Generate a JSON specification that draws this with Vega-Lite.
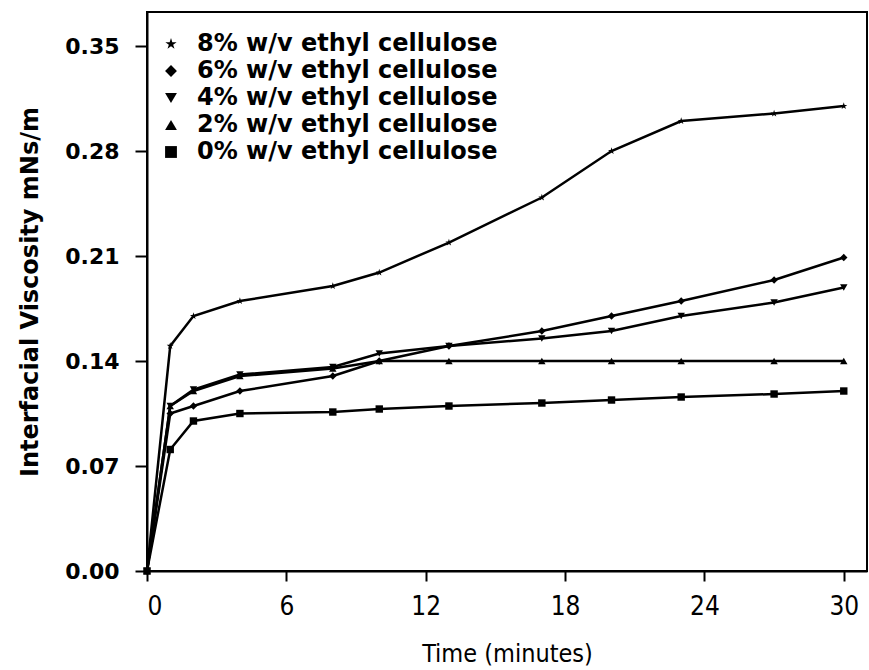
{
  "$schema": "https://vega.github.io/schema/vega-lite/v6.json",
  "width": 720,
  "height": 559,
  "autosize": "none",
  "padding": {"left": 147, "top": 12, "right": 2, "bottom": 99},
  "background": "white",
  "config": {
    "view": {"stroke": "black", "strokeWidth": 2},
    "axis": {"grid": false, "domainColor": "black", "domainWidth": 2, "tickColor": "black", "tickWidth": 2, "labelColor": "black", "titleColor": "black"}
  },
  "data": {"values": [
    {"series": "8% w/v ethyl cellulose", "time": 0, "visc": 0},
    {"series": "8% w/v ethyl cellulose", "time": 1, "visc": 0.150},
    {"series": "8% w/v ethyl cellulose", "time": 2, "visc": 0.170},
    {"series": "8% w/v ethyl cellulose", "time": 4, "visc": 0.180},
    {"series": "8% w/v ethyl cellulose", "time": 8, "visc": 0.190},
    {"series": "8% w/v ethyl cellulose", "time": 10, "visc": 0.199},
    {"series": "8% w/v ethyl cellulose", "time": 13, "visc": 0.219},
    {"series": "8% w/v ethyl cellulose", "time": 17, "visc": 0.249},
    {"series": "8% w/v ethyl cellulose", "time": 20, "visc": 0.280},
    {"series": "8% w/v ethyl cellulose", "time": 23, "visc": 0.300},
    {"series": "8% w/v ethyl cellulose", "time": 27, "visc": 0.305},
    {"series": "8% w/v ethyl cellulose", "time": 30, "visc": 0.310},
    {"series": "6% w/v ethyl cellulose", "time": 0, "visc": 0},
    {"series": "6% w/v ethyl cellulose", "time": 1, "visc": 0.105},
    {"series": "6% w/v ethyl cellulose", "time": 2, "visc": 0.110},
    {"series": "6% w/v ethyl cellulose", "time": 4, "visc": 0.120},
    {"series": "6% w/v ethyl cellulose", "time": 8, "visc": 0.130},
    {"series": "6% w/v ethyl cellulose", "time": 10, "visc": 0.140},
    {"series": "6% w/v ethyl cellulose", "time": 13, "visc": 0.150},
    {"series": "6% w/v ethyl cellulose", "time": 17, "visc": 0.160},
    {"series": "6% w/v ethyl cellulose", "time": 20, "visc": 0.170},
    {"series": "6% w/v ethyl cellulose", "time": 23, "visc": 0.180},
    {"series": "6% w/v ethyl cellulose", "time": 27, "visc": 0.194},
    {"series": "6% w/v ethyl cellulose", "time": 30, "visc": 0.209},
    {"series": "4% w/v ethyl cellulose", "time": 0, "visc": 0},
    {"series": "4% w/v ethyl cellulose", "time": 1, "visc": 0.110},
    {"series": "4% w/v ethyl cellulose", "time": 2, "visc": 0.121},
    {"series": "4% w/v ethyl cellulose", "time": 4, "visc": 0.131},
    {"series": "4% w/v ethyl cellulose", "time": 8, "visc": 0.136},
    {"series": "4% w/v ethyl cellulose", "time": 10, "visc": 0.145},
    {"series": "4% w/v ethyl cellulose", "time": 13, "visc": 0.150},
    {"series": "4% w/v ethyl cellulose", "time": 17, "visc": 0.155},
    {"series": "4% w/v ethyl cellulose", "time": 20, "visc": 0.160},
    {"series": "4% w/v ethyl cellulose", "time": 23, "visc": 0.170},
    {"series": "4% w/v ethyl cellulose", "time": 27, "visc": 0.179},
    {"series": "4% w/v ethyl cellulose", "time": 30, "visc": 0.189},
    {"series": "2% w/v ethyl cellulose", "time": 0, "visc": 0},
    {"series": "2% w/v ethyl cellulose", "time": 1, "visc": 0.110},
    {"series": "2% w/v ethyl cellulose", "time": 2, "visc": 0.120},
    {"series": "2% w/v ethyl cellulose", "time": 4, "visc": 0.130},
    {"series": "2% w/v ethyl cellulose", "time": 8, "visc": 0.135},
    {"series": "2% w/v ethyl cellulose", "time": 10, "visc": 0.140},
    {"series": "2% w/v ethyl cellulose", "time": 13, "visc": 0.140},
    {"series": "2% w/v ethyl cellulose", "time": 17, "visc": 0.140},
    {"series": "2% w/v ethyl cellulose", "time": 20, "visc": 0.140},
    {"series": "2% w/v ethyl cellulose", "time": 23, "visc": 0.140},
    {"series": "2% w/v ethyl cellulose", "time": 27, "visc": 0.140},
    {"series": "2% w/v ethyl cellulose", "time": 30, "visc": 0.140},
    {"series": "0% w/v ethyl cellulose", "time": 0, "visc": 0},
    {"series": "0% w/v ethyl cellulose", "time": 1, "visc": 0.081},
    {"series": "0% w/v ethyl cellulose", "time": 2, "visc": 0.100},
    {"series": "0% w/v ethyl cellulose", "time": 4, "visc": 0.105},
    {"series": "0% w/v ethyl cellulose", "time": 8, "visc": 0.106},
    {"series": "0% w/v ethyl cellulose", "time": 10, "visc": 0.108},
    {"series": "0% w/v ethyl cellulose", "time": 13, "visc": 0.110},
    {"series": "0% w/v ethyl cellulose", "time": 17, "visc": 0.112},
    {"series": "0% w/v ethyl cellulose", "time": 20, "visc": 0.114},
    {"series": "0% w/v ethyl cellulose", "time": 23, "visc": 0.116},
    {"series": "0% w/v ethyl cellulose", "time": 27, "visc": 0.118},
    {"series": "0% w/v ethyl cellulose", "time": 30, "visc": 0.120}
  ]},
  "encoding": {
    "x": {
      "field": "time", "type": "quantitative",
      "scale": {"domain": [0, 31], "nice": false, "zero": false},
      "axis": {
        "values": [0, 6, 12, 18, 24, 30],
        "title": "Time (minutes)",
        "tickSize": 10, "tickWidth": 2,
        "labelFont": "Liberation Sans Narrow, DejaVu Sans Condensed, Roboto Condensed, sans-serif",
        "labelFontSize": 26, "labelPadding": 12,
        "titleFont": "Liberation Sans Narrow, DejaVu Sans Condensed, Roboto Condensed, sans-serif",
        "titleFontSize": 25, "titleFontWeight": "normal", "titlePadding": 22
      }
    },
    "y": {
      "field": "visc", "type": "quantitative",
      "scale": {"domain": [0, 0.3727], "nice": false},
      "axis": {
        "values": [0, 0.07, 0.14, 0.21, 0.28, 0.35],
        "format": ".2f",
        "title": "Interfacial Viscosity mNs/m",
        "tickSize": 12, "tickWidth": 2,
        "labelFont": "DejaVu Sans", "labelFontSize": 22, "labelFontWeight": "bold", "labelPadding": 16,
        "titleFont": "DejaVu Sans", "titleFontSize": 24, "titleFontWeight": "bold", "titlePadding": 22
      }
    }
  },
  "layer": [
    {
      "mark": {"type": "line", "color": "black", "strokeWidth": 2.5},
      "encoding": {"detail": {"field": "series"}}
    },
    {
      "mark": {"type": "point", "filled": true, "color": "black", "opacity": 1, "size": 55},
      "encoding": {
        "shape": {
          "field": "series", "type": "nominal",
          "scale": {
            "domain": ["8% w/v ethyl cellulose", "6% w/v ethyl cellulose", "4% w/v ethyl cellulose", "2% w/v ethyl cellulose", "0% w/v ethyl cellulose"],
            "range": ["M0,-1L0.225,-0.309L0.951,-0.309L0.363,0.118L0.588,0.809L0,0.382L-0.588,0.809L-0.363,0.118L-0.951,-0.309L-0.225,-0.309Z", "diamond", "triangle-down", "triangle-up", "square"]
          },
          "legend": {
            "title": null,
            "orient": "none", "legendX": 12, "legendY": 20,
            "padding": 0,
            "symbolFillColor": "black", "symbolStrokeColor": "black", "symbolSize": 140,
            "labelFont": "DejaVu Sans", "labelFontSize": 24, "labelFontWeight": "bold", "labelColor": "black",
            "labelOffset": 14, "rowPadding": 3, "labelLimit": 400
          }
        }
      }
    }
  ]
}
